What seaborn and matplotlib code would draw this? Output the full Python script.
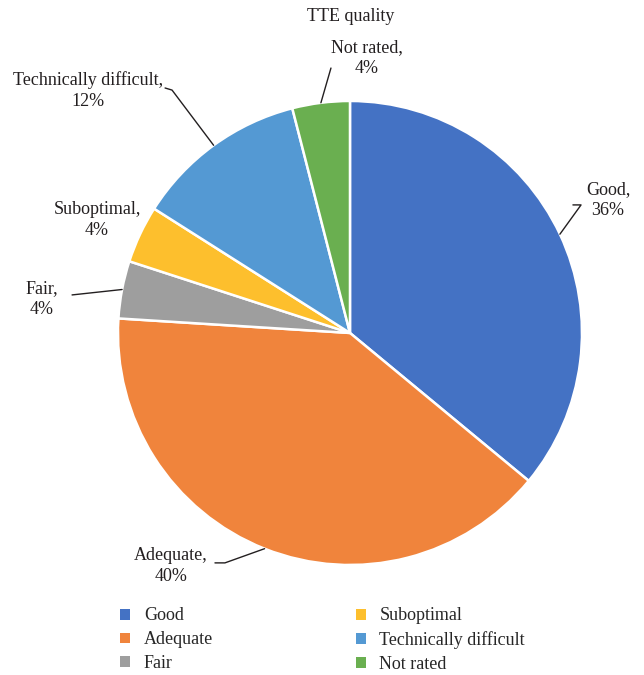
import numpy as np
import matplotlib
matplotlib.use("Agg")
import matplotlib.pyplot as plt
import seaborn as sns
from matplotlib.patches import Patch

sns.set_theme(style="white")
plt.rcParams['font.family'] = ['Liberation Serif', 'DejaVu Serif']

# --- data ---
categories = ["Good", "Adequate", "Fair", "Suboptimal", "Technically difficult", "Not rated"]
percents = [36, 40, 4, 4, 12, 4]
colors = ["#4472C4", "#F0843C", "#9E9E9E", "#FDBF2D", "#5499D3", "#6AAF50"]

# label text positions (axes data units, radius = 1) and leader elbows
label_pos = {
    "Good": (1.112, 0.571),
    "Adequate": (-0.772, -1.004),
    "Fair": (-1.328, 0.147),
    "Suboptimal": (-1.09, 0.487),
    "Technically difficult": (-1.129, 1.043),
    "Not rated": (0.073, 1.185),
}
leaders = {
    "Good": [(0.996, 0.552), (0.961, 0.552)],
    "Adequate": [(-0.539, -0.991), (-0.582, -0.991)],
    "Fair": [(-1.198, 0.164)],
    "Technically difficult": [(-0.767, 1.047), (-0.797, 1.056)],
    "Not rated": [(-0.082, 1.142)],
}

fig = plt.figure(figsize=(6.44, 6.75), dpi=100)
ax = fig.add_axes([0.1832, 0.163, 0.7205, 0.6874])

wedges, _ = ax.pie(percents, colors=colors, startangle=90, counterclock=False,
                   radius=1, wedgeprops=dict(edgecolor="white", linewidth=1.8))
ax.set_xlim(-1, 1)
ax.set_ylim(-1, 1)
ax.set_aspect("equal")
ax.axis("off")

fs = 13
for w, cat, p in zip(wedges, categories, percents):
    mid = np.deg2rad((w.theta1 + w.theta2) / 2)
    anchor = (np.cos(mid), np.sin(mid))
    tx, ty = label_pos[cat]
    ax.text(tx, ty, f"{cat},\n{p}%", ha="center", va="center", fontsize=fs,
            color="#231F20", linespacing=1.3, clip_on=False)
    if cat in leaders:
        pts = [anchor] + leaders[cat]
        xs, ys = zip(*pts)
        ax.plot(xs, ys, color="#231F20", lw=1.0, clip_on=False)

fig.text(0.545, 0.975, "TTE quality", ha="center", va="center", fontsize=fs, color="#231F20")

handles = [Patch(facecolor=c, edgecolor="none") for c in colors]
fig.legend(handles, categories, ncol=2, loc="upper left", bbox_to_anchor=(0.187, 0.1),
           frameon=False, fontsize=fs, handlelength=0.55, handleheight=0.55,
           handletextpad=0.75, columnspacing=7.9, labelspacing=0.38,
           borderaxespad=0, borderpad=0)

fig.savefig("out.png", dpi=100)
